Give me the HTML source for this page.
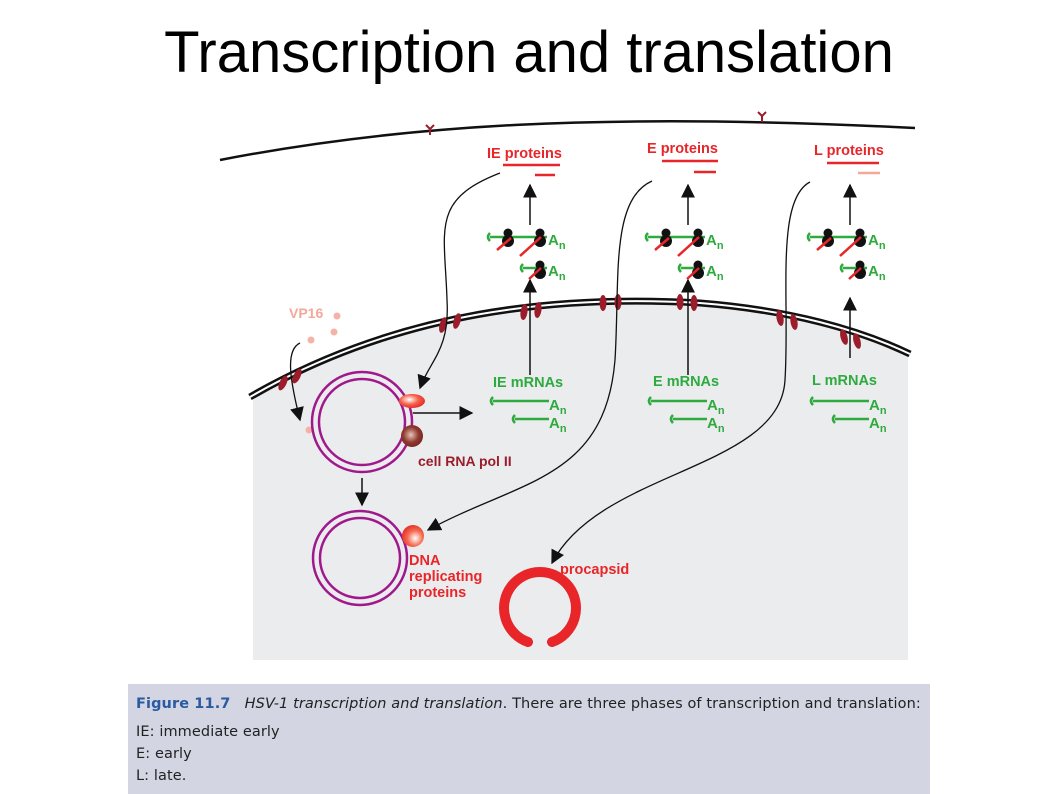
<!DOCTYPE html>
<html><head><meta charset="utf-8"><style>
body{margin:0;width:1058px;height:794px;background:#fff;overflow:hidden;font-family:"Liberation Sans",sans-serif;}
svg{position:absolute;left:0;top:0}
.cap{position:absolute;left:128px;top:684px;width:802px;height:110px;background:#d3d5e3;font-family:"DejaVu Sans","Liberation Sans",sans-serif;font-size:14.5px;letter-spacing:0.1px;color:#222;line-height:22px;padding:9px 0 0 8px;box-sizing:border-box;white-space:nowrap}
</style></head><body>
<svg width="1058" height="794" viewBox="0 0 1058 794" font-family="Liberation Sans, sans-serif">
<defs>
<marker id="ah2" viewBox="0 0 10 10" refX="9" refY="5" markerWidth="14" markerHeight="14" markerUnits="userSpaceOnUse" orient="auto-start-reverse"><path d="M0,0 L10,5 L0,10 z" fill="#111"/></marker>
<radialGradient id="rg1" cx="0.4" cy="0.4" r="0.7"><stop offset="0" stop-color="#fff"/><stop offset="0.5" stop-color="#f5604a"/><stop offset="1" stop-color="#e02020"/></radialGradient>
<radialGradient id="rg2" cx="0.45" cy="0.45" r="0.7"><stop offset="0" stop-color="#e8c4b8"/><stop offset="0.5" stop-color="#8e3a30"/><stop offset="1" stop-color="#6a1a18"/></radialGradient>
<radialGradient id="rg3" cx="0.6" cy="0.6" r="0.7"><stop offset="0" stop-color="#fff"/><stop offset="0.5" stop-color="#f56a50"/><stop offset="1" stop-color="#e02020"/></radialGradient>
<g id="poly">
<path d="M-25,233 q-4,4 0,8 M-25,237 L32,237" stroke="#2eaa3e" stroke-width="2.5" fill="none"/>
<circle cx="-7" cy="233" r="4.5" fill="#111"/><circle cx="-7" cy="241" r="6" fill="#111"/>
<circle cx="25" cy="233" r="4.5" fill="#111"/><circle cx="25" cy="241" r="6" fill="#111"/>
<line x1="-18" y1="250" x2="-4" y2="238" stroke="#e8262a" stroke-width="2.5"/>
<line x1="5" y1="256" x2="26" y2="237" stroke="#e8262a" stroke-width="2.5"/>
<text x="33" y="245" font-size="15" font-weight="bold" fill="#2eaa3e">A<tspan font-size="11" dy="4">n</tspan></text>
<path d="M8,264 q-4,4 0,8 M8,268 L32,268" stroke="#2eaa3e" stroke-width="2.5" fill="none"/>
<circle cx="25" cy="265" r="4.5" fill="#111"/><circle cx="25" cy="273" r="6" fill="#111"/>
<line x1="14" y1="279" x2="26" y2="268" stroke="#e8262a" stroke-width="2.5"/>
<text x="33" y="276" font-size="15" font-weight="bold" fill="#2eaa3e">A<tspan font-size="11" dy="4">n</tspan></text>
<line x1="15" y1="225" x2="15" y2="185" stroke="#111" stroke-width="1.5" marker-end="url(#ah2)"/>
<path d="M-22,397 q-4,4 0,8 M-22,401 L34,401" stroke="#2eaa3e" stroke-width="2.5" fill="none"/>
<text x="34" y="410" font-size="15" font-weight="bold" fill="#2eaa3e">A<tspan font-size="11" dy="4">n</tspan></text>
<path d="M0,415 q-4,4 0,8 M0,419 L34,419" stroke="#2eaa3e" stroke-width="2.5" fill="none"/>
<text x="34" y="428" font-size="15" font-weight="bold" fill="#2eaa3e">A<tspan font-size="11" dy="4">n</tspan></text>
</g>
</defs>
<text x="529" y="72" font-size="58" text-anchor="middle" fill="#000">Transcription and translation</text>
<path d="M253,397 C400,310 560,295 700,303 C790,310 860,330 908,354 L908,660 L253,660 Z" fill="#ebecee"/>
<path d="M250,397 C400,310 560,295 700,303 C790,310 860,330 910,354" fill="none" stroke="#111" stroke-width="7"/>
<path d="M250,397 C400,310 560,295 700,303 C790,310 860,330 910,354" fill="none" stroke="#fff" stroke-width="2"/>
<g fill="#9b1c2a">
<ellipse cx="283" cy="383" rx="3.5" ry="8" transform="rotate(25 283 383)"/>
<ellipse cx="297" cy="376" rx="3.5" ry="8" transform="rotate(25 297 376)"/>
<ellipse cx="443" cy="325" rx="3.5" ry="8" transform="rotate(15 443 325)"/>
<ellipse cx="457" cy="321" rx="3.5" ry="8" transform="rotate(15 457 321)"/>
<ellipse cx="524" cy="312" rx="3.5" ry="8" transform="rotate(8 524 312)"/>
<ellipse cx="538" cy="310" rx="3.5" ry="8" transform="rotate(8 538 310)"/>
<ellipse cx="603" cy="303" rx="3.5" ry="8"/>
<ellipse cx="618" cy="302" rx="3.5" ry="8"/>
<ellipse cx="680" cy="302" rx="3.5" ry="8"/>
<ellipse cx="694" cy="303" rx="3.5" ry="8"/>
<ellipse cx="780" cy="318" rx="3.5" ry="8" transform="rotate(-10 780 318)"/>
<ellipse cx="794" cy="322" rx="3.5" ry="8" transform="rotate(-10 794 322)"/>
<ellipse cx="844" cy="337" rx="3.5" ry="8" transform="rotate(-15 844 337)"/>
<ellipse cx="857" cy="341" rx="3.5" ry="8" transform="rotate(-15 857 341)"/>
</g>
<path d="M220,160 C400,125 600,112 915,128" fill="none" stroke="#111" stroke-width="2.5"/>
<g stroke="#9b1c2a" stroke-width="2" fill="none">
<path d="M430,135 v-6 M430,129 l-4,-4 M430,129 l4,-4"/>
<path d="M762,122 v-6 M762,116 l-4,-4 M762,116 l4,-4"/>
</g>
<use href="#poly" x="515" y="0"/>
<use href="#poly" x="673" y="0"/>
<use href="#poly" x="835" y="0"/>
<line x1="530" y1="375" x2="530" y2="280" stroke="#111" stroke-width="1.5" marker-end="url(#ah2)"/>
<line x1="688" y1="375" x2="688" y2="280" stroke="#111" stroke-width="1.5" marker-end="url(#ah2)"/>
<line x1="850" y1="358" x2="850" y2="298" stroke="#111" stroke-width="1.5" marker-end="url(#ah2)"/>
<g font-size="14.5" font-weight="bold" fill="#e8262a">
<text x="487" y="158">IE proteins</text>
<text x="647" y="153">E proteins</text>
<text x="814" y="155">L proteins</text>
</g>
<g stroke-width="2.5">
<line x1="503" y1="165" x2="560" y2="165" stroke="#e8262a"/>
<line x1="535" y1="175" x2="555" y2="175" stroke="#e8262a"/>
<line x1="662" y1="161" x2="718" y2="161" stroke="#e8262a"/>
<line x1="694" y1="172" x2="716" y2="172" stroke="#e8262a"/>
<line x1="827" y1="163" x2="879" y2="163" stroke="#e8262a"/>
<line x1="858" y1="173" x2="880" y2="173" stroke="#f3a89a"/>
</g>
<g font-size="14.5" font-weight="bold" fill="#2eaa3e">
<text x="493" y="387">IE mRNAs</text>
<text x="653" y="386">E mRNAs</text>
<text x="812" y="385">L mRNAs</text>
</g>
<g fill="none" stroke="#111" stroke-width="1.3">
<path d="M500,173 C430,200 445,230 447,300 C450,350 430,360 420,388" marker-end="url(#ah2)"/>
<path d="M652,181 C610,200 620,280 615,360 C605,480 520,480 428,530" marker-end="url(#ah2)"/>
<path d="M810,182 C775,200 790,300 785,380 C780,470 600,470 552,563" marker-end="url(#ah2)"/>
<path d="M300,343 C285,350 290,380 300,420" marker-end="url(#ah2)"/>
<line x1="413" y1="413" x2="472" y2="413" stroke-width="1.5" marker-end="url(#ah2)"/>
<line x1="362" y1="478" x2="362" y2="505" stroke-width="1.5" marker-end="url(#ah2)"/>
</g>
<text x="289" y="318" font-size="14" font-weight="bold" fill="#f3a89a">VP16</text>
<g fill="#f3b3a6"><circle cx="337" cy="316" r="3.5"/><circle cx="334" cy="332" r="3.5"/><circle cx="311" cy="340" r="3.5"/><circle cx="309" cy="430" r="3.5"/></g>
<g fill="none" stroke="#a0198c" stroke-width="2.5">
<circle cx="362" cy="422" r="50"/><circle cx="362" cy="422" r="43"/>
<circle cx="360" cy="558" r="47"/><circle cx="360" cy="558" r="40"/>
</g>
<ellipse cx="412" cy="401" rx="13" ry="7" fill="url(#rg1)"/>
<circle cx="412" cy="436" r="11" fill="url(#rg2)"/>
<text x="418" y="466" font-size="14" font-weight="bold" fill="#9b1c2a">cell RNA pol II</text>
<circle cx="413" cy="536" r="11" fill="url(#rg3)"/>
<g font-size="14.5" font-weight="bold" fill="#e8262a">
<text x="409" y="565">DNA</text><text x="409" y="581">replicating</text><text x="409" y="597">proteins</text>
<text x="560" y="574">procapsid</text>
</g>
<path d="M528,642 A36,36 0 1 1 552,642" fill="none" stroke="#e8262a" stroke-width="10" stroke-linecap="round"/>
</svg>
<div class="cap"><div style="margin-bottom:6px"><span style="color:#2a5aa0;font-weight:bold">Figure 11.7</span>&nbsp;&nbsp; <i>HSV-1 transcription and translation</i>. There are three phases of transcription and translation:</div>IE: immediate early<br>E: early<br>L: late.</div>
</body></html>
